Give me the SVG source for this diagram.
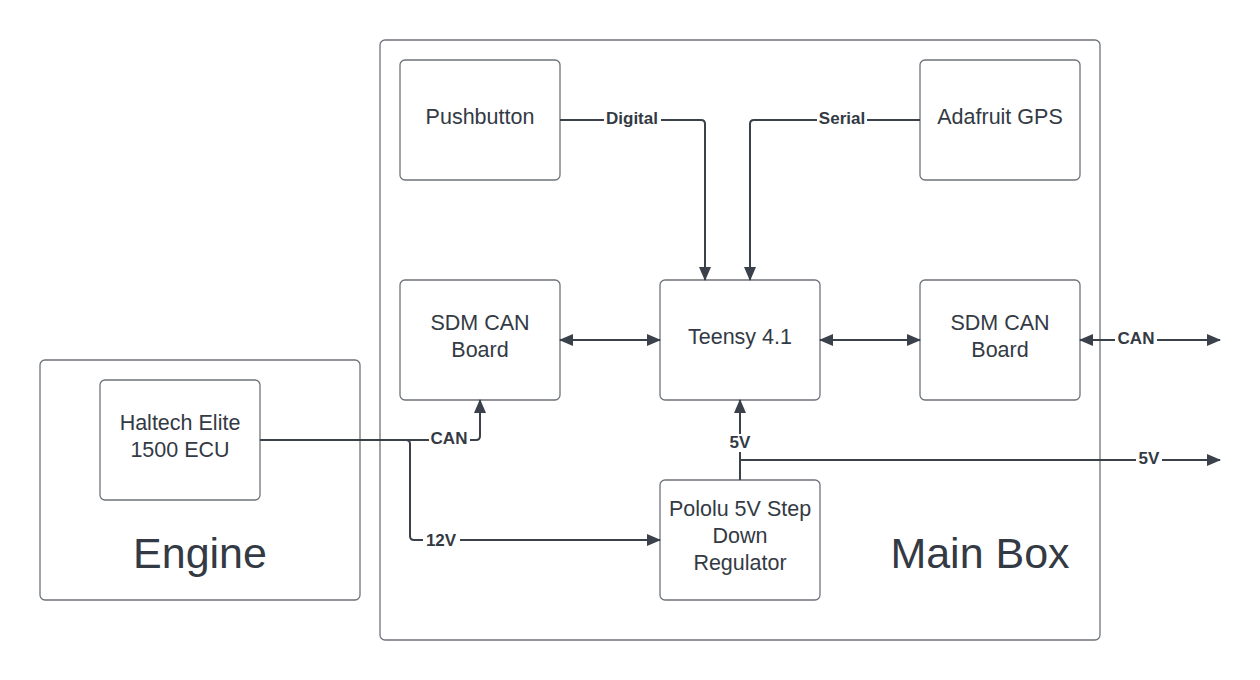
<svg xmlns="http://www.w3.org/2000/svg" width="1260" height="680" viewBox="0 0 1260 680">
<defs>
<marker id="arr" markerUnits="userSpaceOnUse" markerWidth="14" markerHeight="12" viewBox="0 0 14 12" refX="13" refY="6" orient="auto-start-reverse">
<path d="M0,0 L14,6 L0,12 z" fill="#3a414a"/>
</marker>
<style>
.box{fill:#fff;stroke:#6e737a;stroke-width:1.3}
.t{font-family:"Liberation Sans",Arial,sans-serif;font-size:21.5px;fill:#333a44;text-anchor:middle}
.big{font-family:"Liberation Sans",Arial,sans-serif;font-size:43px;fill:#333a44;text-anchor:middle}
.c{fill:none;stroke:#3a414a;stroke-width:2}
.lbl{font-family:"Liberation Sans",Arial,sans-serif;font-size:17px;font-weight:bold;fill:#333a44;text-anchor:middle}
.bg{fill:#fff}
</style>
</defs>
<rect width="1260" height="680" fill="#fff"/>
<g id="engine"><rect class="box" x="40" y="360" width="320" height="240" rx="5"/><text class="big" x="200" y="568">Engine</text></g>
<g id="mainbox"><rect class="box" x="380" y="40" width="720" height="600" rx="5"/><text class="big" x="980" y="568">Main Box</text></g>
<g id="haltech"><rect class="box" x="100" y="380" width="160" height="120" rx="5"/><text class="t" x="180" y="430">Haltech Elite</text><text class="t" x="180" y="457">1500 ECU</text></g>
<g id="pushbutton"><rect class="box" x="400" y="60" width="160" height="120" rx="5"/><text class="t" x="480" y="124">Pushbutton</text></g>
<g id="gps"><rect class="box" x="920" y="60" width="160" height="120" rx="5"/><text class="t" x="1000" y="124">Adafruit GPS</text></g>
<g id="sdm-left"><rect class="box" x="400" y="280" width="160" height="120" rx="5"/><text class="t" x="480" y="330">SDM CAN</text><text class="t" x="480" y="357">Board</text></g>
<g id="teensy"><rect class="box" x="660" y="280" width="160" height="120" rx="5"/><text class="t" x="740" y="344">Teensy 4.1</text></g>
<g id="sdm-right"><rect class="box" x="920" y="280" width="160" height="120" rx="5"/><text class="t" x="1000" y="330">SDM CAN</text><text class="t" x="1000" y="357">Board</text></g>
<g id="pololu"><rect class="box" x="660" y="480" width="160" height="120" rx="5"/><text class="t" x="740" y="516">Pololu 5V Step</text><text class="t" x="740" y="543">Down</text><text class="t" x="740" y="570">Regulator</text></g>
<g id="connectors">
<path class="c" d="M560,120 H701 Q705,120 705,124 V280" marker-end="url(#arr)"/>
<path class="c" d="M920,120 H754 Q750,120 750,124 V280" marker-end="url(#arr)"/>
<path class="c" d="M560,340 H660" marker-start="url(#arr)" marker-end="url(#arr)"/>
<path class="c" d="M820,340 H920" marker-start="url(#arr)" marker-end="url(#arr)"/>
<path class="c" d="M1080,340 H1220" marker-start="url(#arr)" marker-end="url(#arr)"/>
<path class="c" d="M260,440 H476 Q480,440 480,436 V400" marker-end="url(#arr)"/>
<path class="c" d="M260,440 H406 Q410,440 410,444 V536 Q410,540 414,540 H660" marker-end="url(#arr)"/>
<path class="c" d="M740,480 V400" marker-end="url(#arr)"/>
<path class="c" d="M740,480 V460 H1220" marker-end="url(#arr)"/>
<rect class="bg" x="604" y="110" width="57" height="18"/><text class="lbl" x="632" y="124">Digital</text>
<rect class="bg" x="817" y="110" width="50" height="18"/><text class="lbl" x="842" y="124">Serial</text>
<rect class="bg" x="429" y="430" width="41" height="18"/><text class="lbl" x="449" y="444">CAN</text>
<rect class="bg" x="423" y="532" width="37" height="18"/><text class="lbl" x="441" y="546">12V</text>
<rect class="bg" x="727" y="434" width="26" height="18"/><text class="lbl" x="740" y="448">5V</text>
<rect class="bg" x="1136" y="450" width="26" height="18"/><text class="lbl" x="1149" y="464">5V</text>
<rect class="bg" x="1115" y="330" width="42" height="18"/><text class="lbl" x="1136" y="344">CAN</text>
</g>
</svg>
